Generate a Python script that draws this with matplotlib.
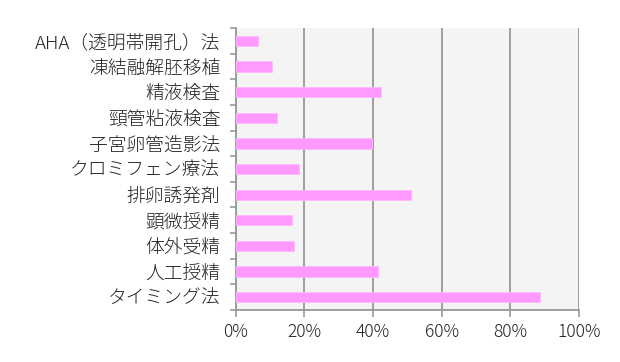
import numpy as np
import matplotlib
matplotlib.use('Agg')
from matplotlib import pyplot as plt
from matplotlib.ticker import FixedLocator

plt.rcParams['font.family'] = ['Noto Sans CJK JP', 'DejaVu Sans']

# categories, top to bottom as in the picture
categories = ['AHA（透明帯開孔）法', '凍結融解胚移植', '精液検査', '頸管粘液検査',
              '子宮卵管造影法', 'クロミフェン療法', '排卵誘発剤', '顕微授精',
              '体外受精', '人工授精', 'タイミング法']
values = [6.4, 10.5, 42.2, 12.1, 39.8, 18.5, 51.1, 16.3, 17.1, 41.4, 88.6]
xticks = [0, 20, 40, 60, 80, 100]
xticklabels = ['0%', '20%', '40%', '60%', '80%', '100%']

fig = plt.figure(figsize=(6.2, 3.62), dpi=100)
ax = fig.add_axes([0.380, 0.1436, 0.554, 0.779])
ax.set_facecolor('#f4f4f4')

y = np.arange(len(categories))
ax.barh(y, values, height=0.4, color='#ff99ff', edgecolor='#ffb8ff', linewidth=0.6, zorder=3)

ax.set_xlim(0, 100)
ax.set_ylim(len(categories) - 0.5, -0.5)

ax.set_xticks(xticks)
ax.set_xticklabels(xticklabels, fontsize=12.5, color='#222222', fontweight='light')
ax.set_yticks(y)
ax.set_yticklabels(categories, fontsize=13.5, color='#222222', fontweight='light')
ax.tick_params(axis='y', which='major', length=0, pad=11)
ax.yaxis.set_minor_locator(FixedLocator(np.arange(-0.5, len(categories), 1.0)))
ax.tick_params(axis='y', which='minor', length=4, color='#999999', width=1.2)
ax.tick_params(axis='x', length=5, color='#999999', width=1.2, pad=4)

ax.grid(axis='x', color='#999999', linewidth=1.3, zorder=1)
for s in ['top', 'right']:
    ax.spines[s].set_visible(False)
for s in ['left', 'bottom']:
    ax.spines[s].set_color('#999999')
    ax.spines[s].set_linewidth(1.3)

fig.savefig('out.png', dpi=100, facecolor='white')
